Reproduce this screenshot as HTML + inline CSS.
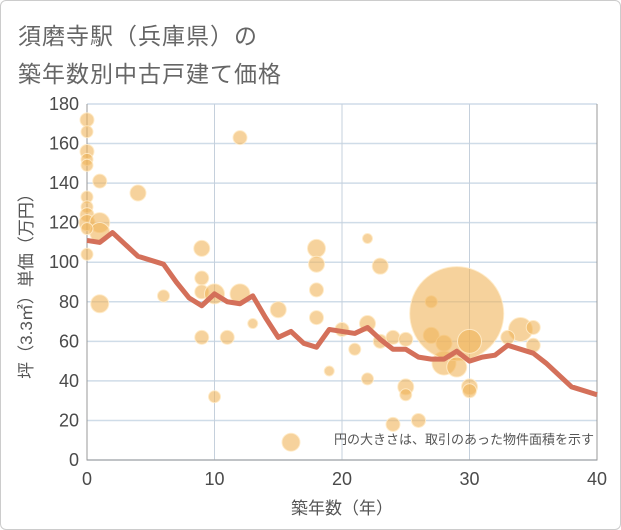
<!DOCTYPE html>
<html><head><meta charset="utf-8"><style>
body{margin:0;background:#fff;}
#wrap{position:relative;width:619px;height:528px;border:1px solid #ccc;border-radius:6px;overflow:hidden;font-family:"Liberation Sans","Noto Sans CJK JP",sans-serif;}
.title{position:absolute;left:17px;font-size:23px;color:#666;letter-spacing:1px;}
</style></head><body>
<div id="wrap">
<div class="title" style="top:16px">須磨寺駅（兵庫県）の</div>
<div class="title" style="top:54px">築年数別中古戸建て価格</div>
<svg id="chart" width="621" height="530" style="position:absolute;left:-1px;top:-1px"></svg>
</div>
<script>
const xTicks=[0,10,20,30,40];
const yTicks=[0,20,40,60,80,100,120,140,160,180];
const lineX=[0,1,2,4,6,7,8,9,10,11,12,13,14,15,16,17,18,19,20,21,22,23,24,25,26,27,28,29,30,31,32,33,35,36,38,40];
const lineY=[111,110,115,103,99,90,82,78,84,80,79,83,72,62,65,59,57,66,65,64,67,61,56,56,52,51,51,55,50,52,53,58,54,49,37,33];
const bubX=[0,0,0,0,0,1,0,0,0,0,1,1,0,0,4,1,6,9,9,9,10,12,13,15,9,11,10,12,18,18,18,18,16,19,20,21,22,22,22,23,23,24,24,25,25,25,26,27,27,28,28,29,29,30,30,30,34,35,35,33];
const bubY=[172,166,156,152,149,141,133,128,124,120,120,115,117,104,135,79,83,107,92,85,84,84,69,76,62,62,32,163,107,99,86,72,9,45,66,56,112,69,41,98,60,62,18,61,37,33,20,80,63,59,49,74,47,60,37,35,66,67,58,62];
const bubR=[7,6,7,6,6,7,6,6,7,8,10,10,6,6,8,9,6,8,7,7,10,10,5,8,7,7,6,7,9,8,7,7,9,5,7,6,5,8,6,8,7,7,7,7,8,6,7,6,8,8,12,47,10,12,8,7,12,7,7,7];
const L=87,R=597,T=104,B=460;
const sx=v=>L+(v-0)/40*(R-L);
const sy=v=>B-v/180*(B-T);
const svg=document.getElementById('chart');
const NS='http://www.w3.org/2000/svg';
function mk(t,a){const e=document.createElementNS(NS,t);for(const k in a)e.setAttribute(k,a[k]);svg.appendChild(e);return e;}
yTicks.forEach(v=>{
 const g=mk('line',{x1:L,x2:R,y1:sy(v),y2:sy(v),stroke:'#cfdce8','stroke-width':1.5});
 
 
 const t=mk('text',{x:L-8,y:sy(v)+6,'text-anchor':'end','font-size':18,fill:'#4a4a4a'});
 t.textContent=v;
 
 
});
xTicks.forEach(v=>{
 const g=mk('line',{x1:sx(v),x2:sx(v),y1:T,y2:B,stroke:'#c5d0dc','stroke-width':1});
 
 
 const t=mk('text',{x:sx(v),y:B+25,'text-anchor':'middle','font-size':18,fill:'#4a4a4a'});
 t.textContent=v;
 
 
});
const ax=mk('path',{d:`M${L},${T} V${B} H${R} V${T}`,fill:'none',stroke:'#999','stroke-width':1});


bubX.forEach((x,i)=>{
 const c=mk('circle',{cx:sx(x),cy:sy(bubY[i]),r:bubR[i],fill:'rgba(240,180,90,0.6)',stroke:'rgba(255,235,200,0.9)','stroke-width':1});
 
 
});
const p=mk('polyline',{points:lineX.map((x,i)=>sx(x)+','+sy(lineY[i])).join(' '),fill:'none',stroke:'#d4705a','stroke-width':5,'stroke-linejoin':'round'});


const n=mk('text',{x:594,y:444,'text-anchor':'end','font-size':13,fill:'#555'});
n.textContent='円の大きさは、取引のあった物件面積を示す';


const xt=mk('text',{x:(L+R)/2,y:514,'text-anchor':'middle','font-size':17,fill:'#555'});
xt.textContent='築年数（年）';


const yt=mk('text',{x:0,y:0,'text-anchor':'middle','font-size':17,fill:'#555',transform:`translate(32,${(T+B)/2}) rotate(-90)`});
yt.textContent='坪（3.3㎡）単価（万円）';


</script>
</body></html>
